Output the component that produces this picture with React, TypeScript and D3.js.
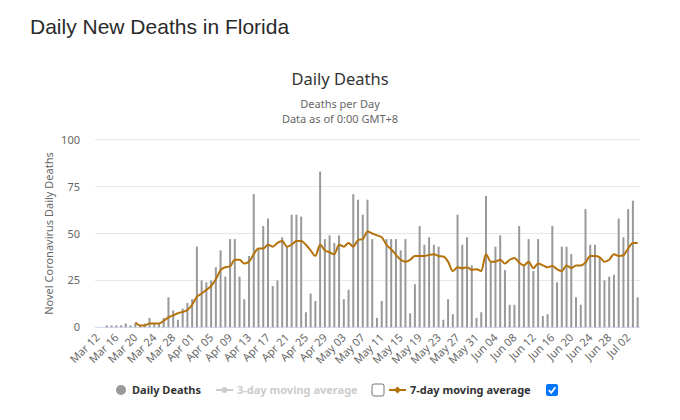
import React from "react";
import * as d3 from "d3";

const startDate = new Date(2020, 2, 12);
const dailyDeaths: number[] = [
  0, 0, 1, 1, 1, 1, 2, 1, 2, 1, 2, 5, 2, 2, 5, 16, 9, 4, 10, 13,
  15, 43, 25, 24, 25, 32, 41, 27, 47, 47, 27, 15, 38, 71, 42, 54, 58, 22, 25, 48,
  43, 60, 60, 59, 8, 18, 14, 83, 47, 49, 45, 49, 15, 20, 71, 68, 60, 68, 47, 5,
  14, 47, 47, 47, 41, 47, 7.5, 23, 54, 44, 48, 44, 43, 4, 15, 7, 60, 44, 48, 33,
  5, 8, 70, 35, 43, 49, 30.5, 12, 12, 54, 33, 47, 30, 47, 6, 7, 54, 24, 43, 43,
  39, 16, 12, 63, 44, 44, 37, 25, 27, 28, 58, 48, 63, 67.5, 16,
];
const avgStartIndex = 8;
const sevenDayAvg: number[] = [
  2.5, 1, 1, 2, 2, 2, 3.5, 5.3, 6.4, 7.5, 8.2, 9.2, 12, 16.3, 18, 20, 22, 25.6,
  30.5, 32, 32.5, 36, 36, 34, 35, 39, 42, 42, 44, 43, 45, 46, 43, 44, 46, 46, 44,
  41, 38, 44, 41, 40, 39, 44, 43, 45, 43, 46.5, 47, 51, 50, 49, 48, 44, 41.6, 38.6,
  36, 35, 36, 38, 38, 38, 38.6, 39, 38, 37.7, 35, 30, 32, 31.5, 32, 30.6, 31, 30,
  39, 35, 35, 36, 34, 36, 37, 34.5, 33, 35, 31.5, 34, 33, 32, 32.7, 31, 30, 33,
  31.5, 33, 33, 34.5, 38, 38, 37.3, 35, 36, 39, 38, 38.4, 42, 45, 45,
];
const yTicks: number[] = [0, 25, 50, 75, 100];
const labelEvery = 4;

const FONT = "'Lucida Grande', 'Lucida Sans Unicode', 'Noto Sans', Arial, sans-serif";

export default function App() {
  const W = 680, H = 420;
  const left = 95, right = 640, top = 139.7, bottom = 327.3;
  const idx = dailyDeaths.map((_, i) => i);
  const x = d3.scaleBand<number>().domain(idx).range([left, right]).padding(0);
  const y = d3.scaleLinear().domain([0, 100]).range([bottom, top]);
  const cx = (i: number) => (x(i) as number) + x.bandwidth() / 2;
  const fmt = d3.timeFormat("%b %d");
  const dateOf = (i: number) => d3.timeDay.offset(startDate, i);
  const line = d3
    .line<number>()
    .x((_, k) => cx(k + avgStartIndex))
    .y((v) => y(v))
    .curve(d3.curveMonotoneX);
  const barW = 2;

  return (
    <div style={{ position: "absolute", left: 0, top: 0 }}>
      <svg width={W} height={H} style={{ display: "block", background: "#fff" }}>
        <text x={30} y={34} fontFamily="'Liberation Sans', Arial, sans-serif" fontSize={21} fill="#2a2a2a">
          Daily New Deaths in Florida
        </text>
        <text x={340} y={85} textAnchor="middle" fontFamily={FONT} fontSize={16.5} fill="#333">
          Daily Deaths
        </text>
        <text x={340} y={108} textAnchor="middle" fontFamily={FONT} fontSize={11} fill="#666">
          Deaths per Day
        </text>
        <text x={340} y={123} textAnchor="middle" fontFamily={FONT} fontSize={11} fill="#666">
          Data as of 0:00 GMT+8
        </text>

        {yTicks.map((t) => (
          <g key={t}>
            <line x1={left} x2={right} y1={y(t)} y2={y(t)} stroke={t === 0 ? "#ccd6eb" : "#e6e6e6"} strokeWidth={1} />
            <text x={80} y={y(t) + 4} textAnchor="end" fontFamily={FONT} fontSize={11} fill="#666">
              {t}
            </text>
          </g>
        ))}
        <text
          transform={`translate(53, ${(top + bottom) / 2}) rotate(-90)`}
          textAnchor="middle"
          fontFamily={FONT}
          fontSize={11}
          fill="#666"
        >
          Novel Coronavirus Daily Deaths
        </text>

        {dailyDeaths.map((v, i) => (
          <rect key={i} x={cx(i) - barW / 2} y={y(v)} width={barW} height={Math.max(0, bottom - y(v))} fill="#999999" />
        ))}

        <path d={line(sevenDayAvg) || ""} fill="none" stroke="#b5720a" strokeWidth={2} strokeLinejoin="round" />

        {idx
          .filter((i) => i % labelEvery === 0)
          .map((i) => (
            <text
              key={i}
              transform={`translate(${cx(i) + 3}, ${bottom + 11}) rotate(-45)`}
              textAnchor="end"
              fontFamily={FONT}
              fontSize={11}
              fill="#666"
            >
              {fmt(dateOf(i))}
            </text>
          ))}

        {/* legend */}
        <g fontFamily={FONT} fontSize={11} fontWeight="bold">
          <circle cx={121} cy={390} r={5} fill="#999999" />
          <text x={132} y={394} fill="#333">Daily Deaths</text>
          <line x1={216} x2={233} y1={390} y2={390} stroke="#cccccc" strokeWidth={2} />
          <circle cx={224.5} cy={390} r={3} fill="#cccccc" />
          <text x={237} y={394} fill="#cccccc">3-day moving average</text>
          <rect x={372} y={384} width={12} height={12} rx={2} fill="#fff" stroke="#767676" strokeWidth={1} />
          <line x1={389} x2={406} y1={390} y2={390} stroke="#b5720a" strokeWidth={2} />
          <path d="M397.5,386.5 L401,390 L397.5,393.5 L394,390 Z" fill="#b5720a" />
          <text x={410} y={394} fill="#333">7-day moving average</text>
          <rect x={546} y={384} width={12} height={12} rx={2} fill="#0075ff" />
          <path d="M548.8,390.2 L551.2,392.8 L555.4,387.2" fill="none" stroke="#fff" strokeWidth={1.8} />
        </g>
      </svg>
    </div>
  );
}
